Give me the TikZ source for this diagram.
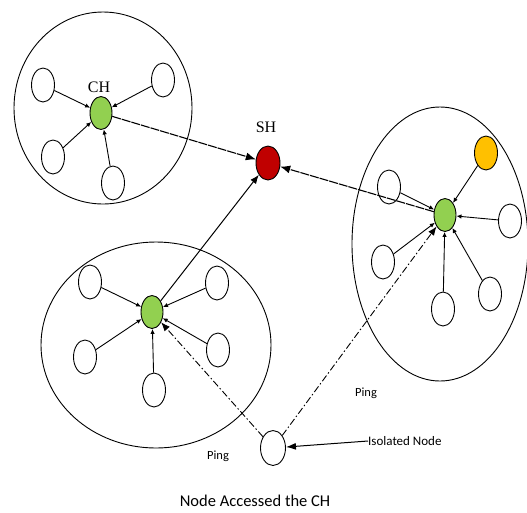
\documentclass[tikz,border=0pt]{standalone}
\usepackage{fontspec}
\setmainfont{Liberation Serif}
\newfontfamily\calib{Carlito}
\usetikzlibrary{shapes.geometric,arrows.meta}
\definecolor{hgreen}{HTML}{92D050}
\definecolor{hred}{HTML}{C00000}
\definecolor{hyellow}{HTML}{FFC000}
\begin{document}
\begin{tikzpicture}[x=1pt,y=-1pt,
  member/.style={ellipse,draw,line width=0.9pt,fill=white,minimum width=23pt,minimum height=34pt,inner sep=0pt},
  head/.style={member,fill=hgreen,minimum width=22pt,minimum height=33pt},
  cluster/.style={draw,line width=0.9pt},
  link/.style={line width=0.9pt,-{Latex[length=5pt,width=4.5pt]}},
  uplink/.style={line width=1.1pt,dash pattern=on 9pt off 1pt,-{Latex[length=10pt,width=8pt]}},
  solidup/.style={line width=1pt,-{Latex[length=9pt,width=7pt]}},
  pingline/.style={line width=0.9pt,dash pattern=on 7pt off 2.5pt on 1.5pt off 2.5pt,-{Latex[length=9pt,width=7pt]}},
  lbl/.style={font=\fontsize{16}{18}\selectfont,inner sep=0pt},
  small/.style={font=\calib\fontsize{12.5}{14}\selectfont,inner sep=0pt}
]
\useasboundingbox (0,0) rectangle (527,512);
% cluster boundaries
\draw[cluster] (103,108) ellipse [x radius=89, y radius=96];
\draw[cluster] (156,345) ellipse [x radius=115, y radius=103];
\draw[cluster] (440,244) ellipse [x radius=88, y radius=137];

% top-left cluster
\node[head] (ch1) at (101,113) {};
\node[member] (w1a) at (43,85) {};
\node[member] (w1b) at (163,80) {};
\node[member] (w1c) at (53,157) {};
\node[member] (w1d) at (113,183) {};
\node[lbl] (chl) at (99,87) {CH};

% sink
\node[member,fill=hred,minimum width=24pt,minimum height=34pt] (sh) at (268,163) {};
\node[lbl] (shl) at (266,127) {SH};

% bottom-left cluster
\node[head] (ch2) at (152,312) {};
\node[member] (w2a) at (90,282) {};
\node[member] (w2b) at (217,283) {};
\node[member] (w2c) at (85,357) {};
\node[member] (w2d) at (218,350) {};
\node[member] (w2e) at (154,390) {};

% right cluster
\node[head] (ch3) at (445,215) {};
\node[member,fill=hyellow] (y3) at (486,153) {};
\node[member] (w3a) at (389,187) {};
\node[member] (w3b) at (510,221) {};
\node[member] (w3c) at (383,262) {};
\node[member] (w3d) at (443,309) {};
\node[member] (w3e) at (490,294) {};

% isolated node
\node[member,minimum width=25pt,minimum height=35pt] (iso) at (273,448) {};

% member links
\foreach \m in {w1a,w1b,w1c,w1d} \draw[link] (\m) -- (ch1);
\foreach \m in {w2a,w2b,w2c,w2d,w2e} \draw[link] (\m) -- (ch2);
\foreach \m in {y3,w3a,w3b,w3c,w3d,w3e} \draw[link] (\m) -- (ch3);

% links to sink
\draw[uplink] (ch1) -- (sh);
\draw[solidup] (ch2) -- (sh);
\draw[uplink] (ch3) -- (sh);

% ping lines
\draw[pingline] (iso) -- (ch2);
\draw[pingline] (iso) -- (ch3);

% labels
\node[small] (p1) at (366,393) {Ping};
\node[small] (p2) at (218,456) {Ping};
\node[font=\calib\fontsize{13}{15}\selectfont,inner sep=0pt,anchor=west] (isol) at (368,441) {Isolated Node};
\draw[line width=1pt,-{Latex[length=10pt,width=7pt]}] (isol.west) -- (iso);
\node[font=\calib\fontsize{16.5}{19}\selectfont,inner sep=0pt] (cap) at (255,501) {Node Accessed the CH};
\end{tikzpicture}
\end{document}
